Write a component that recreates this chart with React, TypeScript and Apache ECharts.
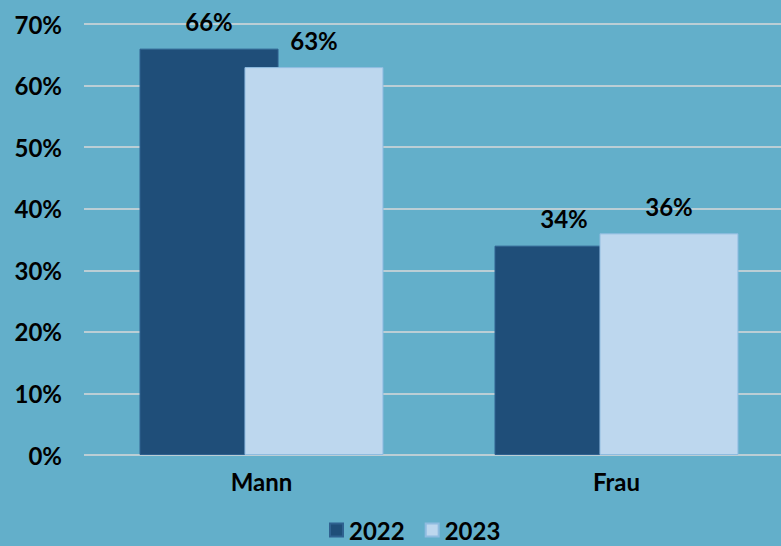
import React, { useEffect, useRef } from "react";
import * as echarts from "echarts";

const categories = ["Mann", "Frau"];
const values2022 = [66, 34];
const values2023 = [63, 36];
const yTicks = [0, 10, 20, 30, 40, 50, 60, 70];

const FONT = "Lato, 'DejaVu Sans', sans-serif";
const FS = 24;

export default function App() {
  const ref = useRef<HTMLDivElement>(null);
  useEffect(() => {
    if (!ref.current) return;
    const chart = echarts.init(ref.current, null, { renderer: "svg" });
    const label = {
      show: true,
      position: "top",
      distance: 15,
      formatter: (p: any) => p.value + "%",
      color: "#000",
      fontFamily: FONT,
      fontWeight: "bold",
      fontSize: FS,
    };
    chart.setOption({
      animation: false,
      backgroundColor: "#63AFCA",
      grid: { left: 84, top: 24, bottom: 91, right: 0, containLabel: false },
      legend: {
        left: 329,
        bottom: 4,
        padding: 0,
        itemWidth: 13,
        itemHeight: 13,
        itemGap: 20,
        icon: "rect",
        textStyle: { color: "#000", fontFamily: FONT, fontWeight: "bold", fontSize: FS, lineHeight: 24, padding: [0, 0, 0, 1] },
        data: ["2022", "2023"],
      },
      xAxis: {
        type: "category",
        data: categories,
        axisLine: { show: false },
        axisTick: { show: false },
        axisLabel: { color: "#000", fontFamily: FONT, fontWeight: "bold", fontSize: FS, margin: 14 },
      },
      yAxis: {
        type: "value",
        min: yTicks[0],
        max: yTicks[yTicks.length - 1],
        interval: 10,
        axisLine: { show: false },
        axisTick: { show: false },
        splitLine: { lineStyle: { color: "#D9D9D9", width: 1.5 } },
        axisLabel: { color: "#000", fontFamily: FONT, fontWeight: "bold", fontSize: FS, margin: 22, formatter: "{value}%" },
      },
      series: [
        {
          name: "2022",
          type: "bar",
          data: values2022,
          barWidth: 139,
          barGap: "-24.5%",
          itemStyle: { color: "#1F4E79", borderColor: "#2F6190", borderWidth: 1 },
          label,
        },
        {
          name: "2023",
          type: "bar",
          data: values2023,
          barWidth: 139,
          itemStyle: { color: "#BDD7EE", borderColor: "#8FBCE0", borderWidth: 1 },
          label,
        },
      ],
    });
    return () => chart.dispose();
  }, []);
  return (
    <div style={{ position: "fixed", left: 0, top: 0, width: 781, height: 546, overflow: "hidden" }}>
      <div ref={ref} style={{ width: 794, height: 546 }} />
    </div>
  );
}
